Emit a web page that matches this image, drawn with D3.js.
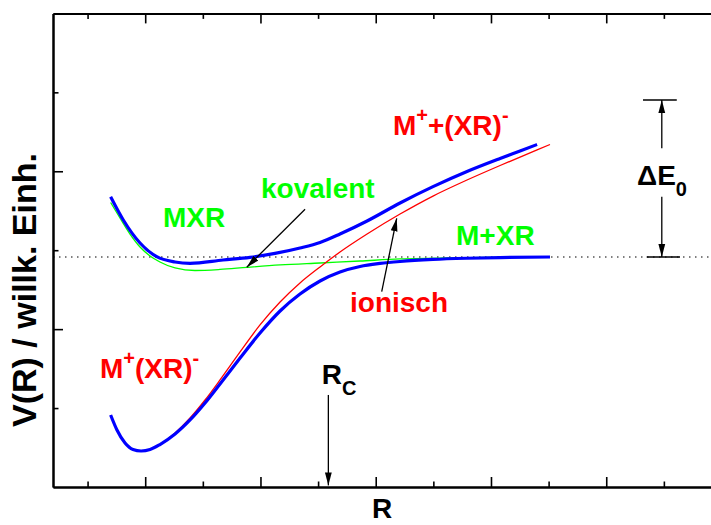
<!DOCTYPE html>
<html>
<head>
<meta charset="utf-8">
<script src="https://cdn.jsdelivr.net/npm/d3@7"></script>
<style>
  html, body { margin: 0; padding: 0; background: #fff; }
  svg { display: block; font-family: "Liberation Sans", Arial, sans-serif; }
</style>
</head>
<body>
<svg id="chart" width="711" height="525"></svg>
<script>
// ---- data (arbitrary units: R along x, V(R) along y) ----
const xMajorTicks = [1, 2, 3, 4, 5];
const xMinorTicks = [0.5, 1.5, 2.5, 3.5, 4.5, 5.5];
const yMajorTicks = [2, 4];
const yMinorTicks = [1, 3, 5];

const asymptoteLevel = 2.914; // energy of M + XR

// covalent diabatic curve (green)
const covalentR = [0.70, 0.781, 0.868, 0.955, 1.042, 1.128, 1.259, 1.432, 1.649, 1.883, 2.170, 2.517, 2.864, 3.211, 3.645, 4.079, 4.512];
const covalentV = [3.604, 3.408, 3.205, 3.041, 2.927, 2.851, 2.775, 2.743, 2.756, 2.783, 2.813, 2.838, 2.863, 2.889, 2.904, 2.910, 2.914];

// ionic diabatic curve (red)
const ionicR = [0.70, 0.755, 0.825, 0.894, 0.964, 1.042, 1.128, 1.259, 1.389, 1.519, 1.649, 1.823, 1.996, 2.170, 2.343, 2.517, 2.690, 2.925, 3.211, 3.497, 3.792, 4.079, 4.400, 4.512];
const ionicV = [0.912, 0.722, 0.557, 0.475, 0.456, 0.475, 0.538, 0.684, 0.874, 1.102, 1.356, 1.711, 2.053, 2.344, 2.585, 2.788, 2.977, 3.205, 3.458, 3.686, 3.889, 4.073, 4.270, 4.339];

// adiabatic upper curve (blue)
const upperR = [0.70, 0.810, 0.955, 1.100, 1.259, 1.389, 1.675, 1.909, 2.126, 2.343, 2.517, 2.690, 2.925, 3.211, 3.497, 3.792, 4.079, 4.252, 4.400];
const upperV = [3.678, 3.383, 3.091, 2.918, 2.851, 2.834, 2.876, 2.910, 2.959, 3.028, 3.098, 3.205, 3.370, 3.598, 3.805, 3.997, 4.162, 4.257, 4.339];

// adiabatic lower curve (blue)
const lowerR = [0.70, 0.755, 0.825, 0.894, 0.964, 1.042, 1.128, 1.259, 1.389, 1.519, 1.649, 1.823, 1.996, 2.170, 2.343, 2.517, 2.690, 2.864, 3.037, 3.211, 3.497, 3.792, 4.079, 4.512];
const lowerV = [0.912, 0.722, 0.557, 0.475, 0.456, 0.475, 0.538, 0.671, 0.849, 1.064, 1.305, 1.634, 1.951, 2.230, 2.445, 2.610, 2.724, 2.794, 2.832, 2.857, 2.883, 2.898, 2.907, 2.914];

// ---- layout ----
const svg = d3.select("#chart");
const x = d3.scaleLinear().domain([0.2, 6.0]).range([53, 721.5]);
const y = d3.scaleLinear().domain([0, 6]).range([487, 13.4]);

const zip = (a, b) => a.map((v, i) => [v, b[i]]);
const line = d3.line().x(d => x(d[0])).y(d => y(d[1])).curve(d3.curveMonotoneX);

// arrow marker
svg.append("defs").append("marker")
  .attr("id", "head")
  .attr("viewBox", "0 0 13 8")
  .attr("refX", 13).attr("refY", 4)
  .attr("markerUnits", "userSpaceOnUse")
  .attr("markerWidth", 13).attr("markerHeight", 8)
  .attr("orient", "auto")
  .append("path").attr("d", "M0,0.6 L13,4 L0,7.4 Z").attr("fill", "#000");

// ---- axes (ticks point inward) ----
function styleAxis(g) {
  g.selectAll("path.domain").attr("stroke", "#000").attr("stroke-width", 2);
  g.selectAll(".tick line").attr("stroke", "#000").attr("stroke-width", 1.6);
}
const axes = svg.append("g");
axes.append("g").attr("transform", `translate(0,${y(0)})`)
  .call(d3.axisBottom(x).tickValues(xMajorTicks).tickSize(-10).tickSizeOuter(0).tickFormat(""))
  .call(styleAxis);
axes.append("g").attr("transform", `translate(0,${y(0)})`)
  .call(d3.axisBottom(x).tickValues(xMinorTicks).tickSize(-5.5).tickSizeOuter(0).tickFormat(""))
  .call(styleAxis);
axes.append("g").attr("transform", `translate(0,${y(6)})`)
  .call(d3.axisTop(x).tickValues(xMajorTicks).tickSize(-10).tickSizeOuter(0).tickFormat(""))
  .call(styleAxis);
axes.append("g").attr("transform", `translate(0,${y(6)})`)
  .call(d3.axisTop(x).tickValues(xMinorTicks).tickSize(-5.5).tickSizeOuter(0).tickFormat(""))
  .call(styleAxis);
axes.append("g").attr("transform", `translate(${x(0.2)},0)`)
  .call(d3.axisLeft(y).tickValues(yMajorTicks).tickSize(-10).tickSizeOuter(0).tickFormat(""))
  .call(styleAxis);
axes.append("g").attr("transform", `translate(${x(0.2)},0)`)
  .call(d3.axisLeft(y).tickValues(yMinorTicks).tickSize(-5.5).tickSizeOuter(0).tickFormat(""))
  .call(styleAxis);
axes.append("g").attr("transform", `translate(${x(6)},0)`)
  .call(d3.axisRight(y).tickValues(yMajorTicks.concat(yMinorTicks)).tickSize(-6).tickSizeOuter(0).tickFormat(""))
  .call(styleAxis);

// ---- dotted asymptote ----
svg.append("line")
  .attr("x1", x(0.2)).attr("x2", x(6))
  .attr("y1", y(asymptoteLevel)).attr("y2", y(asymptoteLevel))
  .attr("stroke", "#000").attr("stroke-width", 1.2)
  .attr("stroke-dasharray", "1.5,4.5");

// ---- curves ----
svg.append("path").datum(zip(covalentR, covalentV)).attr("d", line)
  .attr("fill", "none").attr("stroke", "#00ff00").attr("stroke-width", 1.3);
svg.append("path").datum(zip(ionicR, ionicV)).attr("d", line)
  .attr("fill", "none").attr("stroke", "#ff0000").attr("stroke-width", 1.3);
svg.append("path").datum(zip(upperR, upperV)).attr("d", line)
  .attr("fill", "none").attr("stroke", "#0000ff").attr("stroke-width", 3.2);
svg.append("path").datum(zip(lowerR, lowerV)).attr("d", line)
  .attr("fill", "none").attr("stroke", "#0000ff").attr("stroke-width", 3.2);

// ---- annotation arrows (data coordinates) ----
const arrows = [
  { from: [2.387, 3.518], to: [1.881, 2.783] },   // kovalent
  { from: [3.052, 2.474], to: [3.182, 3.404] },   // ionisch
  { from: [2.589, 1.166], to: [2.589, 0.02] },    // R_C
  { from: [5.482, 4.291], to: [5.482, 4.903] },   // ΔE0 up
  { from: [5.482, 3.678], to: [5.482, asymptoteLevel] } // ΔE0 down
];
arrows.forEach(a => {
  svg.append("line")
    .attr("x1", x(a.from[0])).attr("y1", y(a.from[1]))
    .attr("x2", x(a.to[0])).attr("y2", y(a.to[1]))
    .attr("stroke", "#000").attr("stroke-width", 1.3)
    .attr("marker-end", "url(#head)");
});
// ΔE0 bars
const bars = [
  { x0: 5.319, x1: 5.612, v: 4.903 },
  { x0: 5.351, x1: 5.640, v: asymptoteLevel }
];
bars.forEach(b => {
  svg.append("line")
    .attr("x1", x(b.x0)).attr("x2", x(b.x1))
    .attr("y1", y(b.v)).attr("y2", y(b.v))
    .attr("stroke", "#000").attr("stroke-width", 1.3);
});

// ---- labels ----
const FS = 28, SUP = 20;
function label(px, py, color, parts) {
  const t = svg.append("text")
    .attr("x", x(px)).attr("y", y(py))
    .attr("fill", color).attr("font-weight", "bold").attr("font-size", FS);
  parts.forEach(p => {
    const ts = t.append("tspan").text(p.t);
    if (p.sup) ts.attr("font-size", SUP).attr("dy", -13);
    else if (p.sub) ts.attr("font-size", SUP).attr("dy", 11);
    if (p.back) ts.attr("dy", p.back);
  });
  return t;
}
label(1.154, 3.294, "#00ff00", [{ t: "MXR" }]);
label(2.005, 3.661, "#00ff00", [{ t: "kovalent" }]);
label(3.697, 3.066, "#00ff00", [{ t: "M+XR" }]);
label(3.150, 4.460, "#ff0000", [{ t: "M" }, { t: "+", sup: true }, { t: "+(XR)", back: 13 }, { t: "-", sup: true }]);
label(2.777, 2.217, "#ff0000", [{ t: "ionisch" }]);
label(0.608, 1.381, "#ff0000", [{ t: "M" }, { t: "+", sup: true }, { t: "(XR)", back: 13 }, { t: "-", sup: true }]);
label(2.531, 1.305, "#000", [{ t: "R" }, { t: "C", sub: true }]);
label(5.267, 3.826, "#000", [{ t: "\u0394E" }, { t: "0", sub: true }]);

// axis titles
svg.append("text")
  .attr("x", x(3.055)).attr("y", 518)
  .attr("text-anchor", "middle").attr("font-weight", "bold").attr("font-size", FS)
  .text("R");
svg.append("text")
  .attr("transform", `translate(36,290) rotate(-90)`)
  .attr("text-anchor", "middle").attr("font-weight", "bold").attr("font-size", 34)
  .text("V(R) / willk. Einh.");
</script>
</body>
</html>
